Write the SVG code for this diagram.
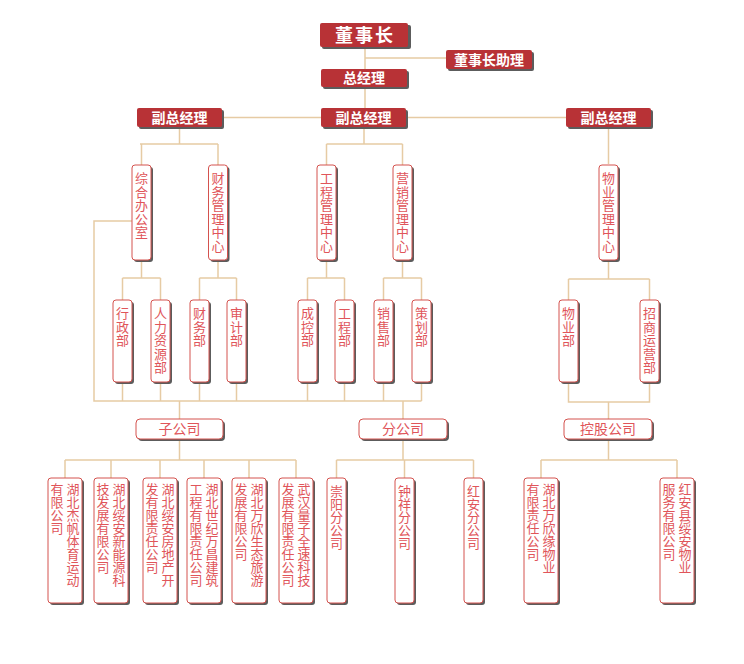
<svg xmlns="http://www.w3.org/2000/svg" width="744" height="664" viewBox="0 0 744 664">
<style>
.sh{fill:#5c5c5c}
.f{fill:#B83236}
.o{fill:#ffffff;stroke:#D4524E;stroke-width:1}
.t{fill:#ffffff;font-family:"Noto Sans CJK SC","Noto Sans",sans-serif;font-weight:bold;font-size:14px;text-anchor:middle}
.h{fill:#E0555A;font-family:"Noto Sans CJK SC","Noto Sans",sans-serif;font-size:14px;text-anchor:middle}
.v{fill:#E0555A;font-family:"Noto Sans CJK SC","Noto Sans",sans-serif;font-size:13px;writing-mode:vertical-rl;text-orientation:upright;letter-spacing:0.5px}
.b{letter-spacing:0px}
#connectors path{fill:none;stroke:#E6CBA4;stroke-width:1.5}
</style>
<rect width="744" height="664" fill="#ffffff"/>
<g id="connectors">
<path d="M365 47V69M365 58H446M365 87V108M222 117.5H566"/>
<path d="M179.5 127V144M140 144H218M141.5 144V165M218 144V165"/>
<path d="M364 127V144M326.5 144H402.5M326.5 144V165M402.5 144V165"/>
<path d="M608.5 127V164"/>
<path d="M141.5 260V278M122.5 278H160.5M122.5 278V300M160.5 278V300"/>
<path d="M218 260V278M199.5 278H236.5M199.5 278V300M236.5 278V300"/>
<path d="M326.5 260V278M307.5 278H344.5M307.5 278V300M344.5 278V300"/>
<path d="M402.5 260V278M383.5 278H421.5M383.5 278V300M421.5 278V300"/>
<path d="M608.5 260V279M568.5 279H649.5M568.5 279V300M649.5 279V300"/>
<path d="M132 221H94V401H421.5"/>
<path d="M122.5 382V401M160.5 382V401M199.5 382V401M236.5 382V401M307.5 382V401M344.5 382V401M383.5 382V401M421.5 382V401"/>
<path d="M179.5 401V419M403 401V419"/>
<path d="M568.5 382V402H649.5V382M608.5 402V419"/>
<path d="M179.5 439V460M65 460H296M65 460V478M111 460V478M160 460V478M204 460V478M249 460V478M296 460V478"/>
<path d="M403 439V460M336.5 460H473.5M336.5 460V478M404.5 460V478M473.5 460V478"/>
<path d="M608.5 439V460M541 460H677M541 460V478M677 460V478"/>
</g>

<g id="chairman"><rect class="sh" x="322" y="25" width="89" height="24" rx="2"/><rect class="f" x="320" y="23" width="88" height="24" rx="2"/><text class="t" x="365" y="41.5" style="font-size:18px;letter-spacing:2px">董事长</text></g>
<g id="assistant"><rect class="sh" x="448" y="52" width="86" height="19" rx="2"/><rect class="f" x="446" y="50" width="86" height="19" rx="2"/><text class="t" x="489" y="64.5">董事长助理</text></g>
<g id="gm"><rect class="sh" x="323" y="71" width="86" height="18" rx="2"/><rect class="f" x="321" y="69" width="86" height="18" rx="2"/><text class="t" x="364" y="83">总经理</text></g>
<g id="vgm-left"><rect class="sh" x="139" y="110" width="85" height="19" rx="2"/><rect class="f" x="137" y="108" width="85" height="19" rx="2"/><text class="t" x="179.5" y="122.5">副总经理</text></g>
<g id="vgm-mid"><rect class="sh" x="323" y="110" width="85" height="19" rx="2"/><rect class="f" x="321" y="108" width="85" height="19" rx="2"/><text class="t" x="363.5" y="122.5">副总经理</text></g>
<g id="vgm-right"><rect class="sh" x="568" y="110" width="85" height="19" rx="2"/><rect class="f" x="566" y="108" width="85" height="19" rx="2"/><text class="t" x="608.5" y="122.5">副总经理</text></g>

<g id="zonghe"><rect class="sh" x="134" y="167" width="19" height="95" rx="3"/><rect class="o" x="132" y="165" width="19" height="95" rx="3"/><text class="v" x="141.5" y="172">综合办公室</text></g>
<g id="caiwu-center"><rect class="sh" x="210.5" y="167" width="19" height="95" rx="3"/><rect class="o" x="208.5" y="165" width="19" height="95" rx="3"/><text class="v" x="218" y="172">财务管理中心</text></g>
<g id="gongcheng-center"><rect class="sh" x="319" y="167" width="19" height="95" rx="3"/><rect class="o" x="317" y="165" width="19" height="95" rx="3"/><text class="v" x="326.5" y="172">工程管理中心</text></g>
<g id="yingxiao-center"><rect class="sh" x="395" y="167" width="19" height="95" rx="3"/><rect class="o" x="393" y="165" width="19" height="95" rx="3"/><text class="v" x="402.5" y="172">营销管理中心</text></g>
<g id="wuye-center"><rect class="sh" x="601" y="167" width="19" height="95" rx="3"/><rect class="o" x="599" y="165" width="19" height="95" rx="3"/><text class="v" x="608.5" y="172">物业管理中心</text></g>

<g id="xingzheng"><rect class="sh" x="115" y="302" width="19" height="82" rx="3"/><rect class="o" x="113" y="300" width="19" height="82" rx="3"/><text class="v" x="122.5" y="307">行政部</text></g>
<g id="renli"><rect class="sh" x="153" y="302" width="19" height="82" rx="3"/><rect class="o" x="151" y="300" width="19" height="82" rx="3"/><text class="v" x="160.5" y="307">人力资源部</text></g>
<g id="caiwu"><rect class="sh" x="192" y="302" width="19" height="82" rx="3"/><rect class="o" x="190" y="300" width="19" height="82" rx="3"/><text class="v" x="199.5" y="307">财务部</text></g>
<g id="shenji"><rect class="sh" x="229" y="302" width="19" height="82" rx="3"/><rect class="o" x="227" y="300" width="19" height="82" rx="3"/><text class="v" x="236.5" y="307">审计部</text></g>
<g id="chengkong"><rect class="sh" x="300" y="302" width="19" height="82" rx="3"/><rect class="o" x="298" y="300" width="19" height="82" rx="3"/><text class="v" x="307.5" y="307">成控部</text></g>
<g id="gongcheng"><rect class="sh" x="337" y="302" width="19" height="82" rx="3"/><rect class="o" x="335" y="300" width="19" height="82" rx="3"/><text class="v" x="344.5" y="307">工程部</text></g>
<g id="xiaoshou"><rect class="sh" x="376" y="302" width="19" height="82" rx="3"/><rect class="o" x="374" y="300" width="19" height="82" rx="3"/><text class="v" x="383.5" y="307">销售部</text></g>
<g id="cehua"><rect class="sh" x="414" y="302" width="19" height="82" rx="3"/><rect class="o" x="412" y="300" width="19" height="82" rx="3"/><text class="v" x="421.5" y="307">策划部</text></g>
<g id="wuye"><rect class="sh" x="561" y="302" width="19" height="82" rx="3"/><rect class="o" x="559" y="300" width="19" height="82" rx="3"/><text class="v" x="568.5" y="307">物业部</text></g>
<g id="zhaoshang"><rect class="sh" x="642" y="302" width="19" height="82" rx="3"/><rect class="o" x="640" y="300" width="19" height="82" rx="3"/><text class="v" x="649.5" y="307">招商运营部</text></g>

<g id="zigongsi"><rect class="sh" x="138" y="421" width="87" height="20" rx="4"/><rect class="o" x="136" y="419" width="87" height="20" rx="4"/><text class="h" x="179.5" y="434">子公司</text></g>
<g id="fengongsi"><rect class="sh" x="361" y="421" width="88" height="20" rx="4"/><rect class="o" x="359" y="419" width="88" height="20" rx="4"/><text class="h" x="403" y="434">分公司</text></g>
<g id="konggu"><rect class="sh" x="566" y="421" width="88" height="20" rx="4"/><rect class="o" x="564" y="419" width="88" height="20" rx="4"/><text class="h" x="608" y="434">控股公司</text></g>

<g id="jiefan"><rect class="sh" x="50" y="480" width="34" height="125" rx="3"/><rect class="o" x="48" y="478" width="34" height="125" rx="3"/>
<text class="v b" x="73" y="483">湖北杰帆体育运动</text><text class="v b" x="57" y="483">有限公司</text></g>
<g id="xinnengyuan"><rect class="sh" x="96" y="480" width="34" height="125" rx="3"/><rect class="o" x="94" y="478" width="34" height="125" rx="3"/>
<text class="v b" x="119" y="483">湖北绥安新能源科</text><text class="v b" x="103" y="483">技发展有限公司</text></g>
<g id="fangdichan"><rect class="sh" x="145" y="480" width="34" height="125" rx="3"/><rect class="o" x="143" y="478" width="34" height="125" rx="3"/>
<text class="v b" x="168" y="483">湖北绥安房地产开</text><text class="v b" x="152" y="483">发有限责任公司</text></g>
<g id="wanchang"><rect class="sh" x="189" y="480" width="34" height="125" rx="3"/><rect class="o" x="187" y="478" width="34" height="125" rx="3"/>
<text class="v b" x="212" y="483">湖北世纪万昌建筑</text><text class="v b" x="196" y="483">工程有限责任公司</text></g>
<g id="lvyou"><rect class="sh" x="234" y="480" width="34" height="125" rx="3"/><rect class="o" x="232" y="478" width="34" height="125" rx="3"/>
<text class="v b" x="257" y="483">湖北万欣生态旅游</text><text class="v b" x="241" y="483">发展有限公司</text></g>
<g id="liangzi"><rect class="sh" x="281" y="480" width="34" height="125" rx="3"/><rect class="o" x="279" y="478" width="34" height="125" rx="3"/>
<text class="v b" x="304" y="483">武汉量子全速科技</text><text class="v b" x="288" y="483">发展有限责任公司</text></g>

<g id="chongyang"><rect class="sh" x="329" y="480" width="19" height="125" rx="3"/><rect class="o" x="327" y="478" width="19" height="125" rx="3"/><text class="v b" x="336.5" y="485">崇阳分公司</text></g>
<g id="zhongxiang"><rect class="sh" x="397" y="480" width="19" height="125" rx="3"/><rect class="o" x="395" y="478" width="19" height="125" rx="3"/><text class="v b" x="404.5" y="485">钟祥分公司</text></g>
<g id="hongan"><rect class="sh" x="466" y="480" width="19" height="125" rx="3"/><rect class="o" x="464" y="478" width="19" height="125" rx="3"/><text class="v b" x="473.5" y="485">红安分公司</text></g>

<g id="wanxinyuan"><rect class="sh" x="526" y="480" width="34" height="125" rx="3"/><rect class="o" x="524" y="478" width="34" height="125" rx="3"/>
<text class="v b" x="549" y="483">湖北万欣缘物业</text><text class="v b" x="533" y="483">有限责任公司</text></g>
<g id="suian-wuye"><rect class="sh" x="662" y="480" width="34" height="125" rx="3"/><rect class="o" x="660" y="478" width="34" height="125" rx="3"/>
<text class="v b" x="685" y="483">红安县绥安物业</text><text class="v b" x="669" y="483">服务有限公司</text></g>
</svg>
